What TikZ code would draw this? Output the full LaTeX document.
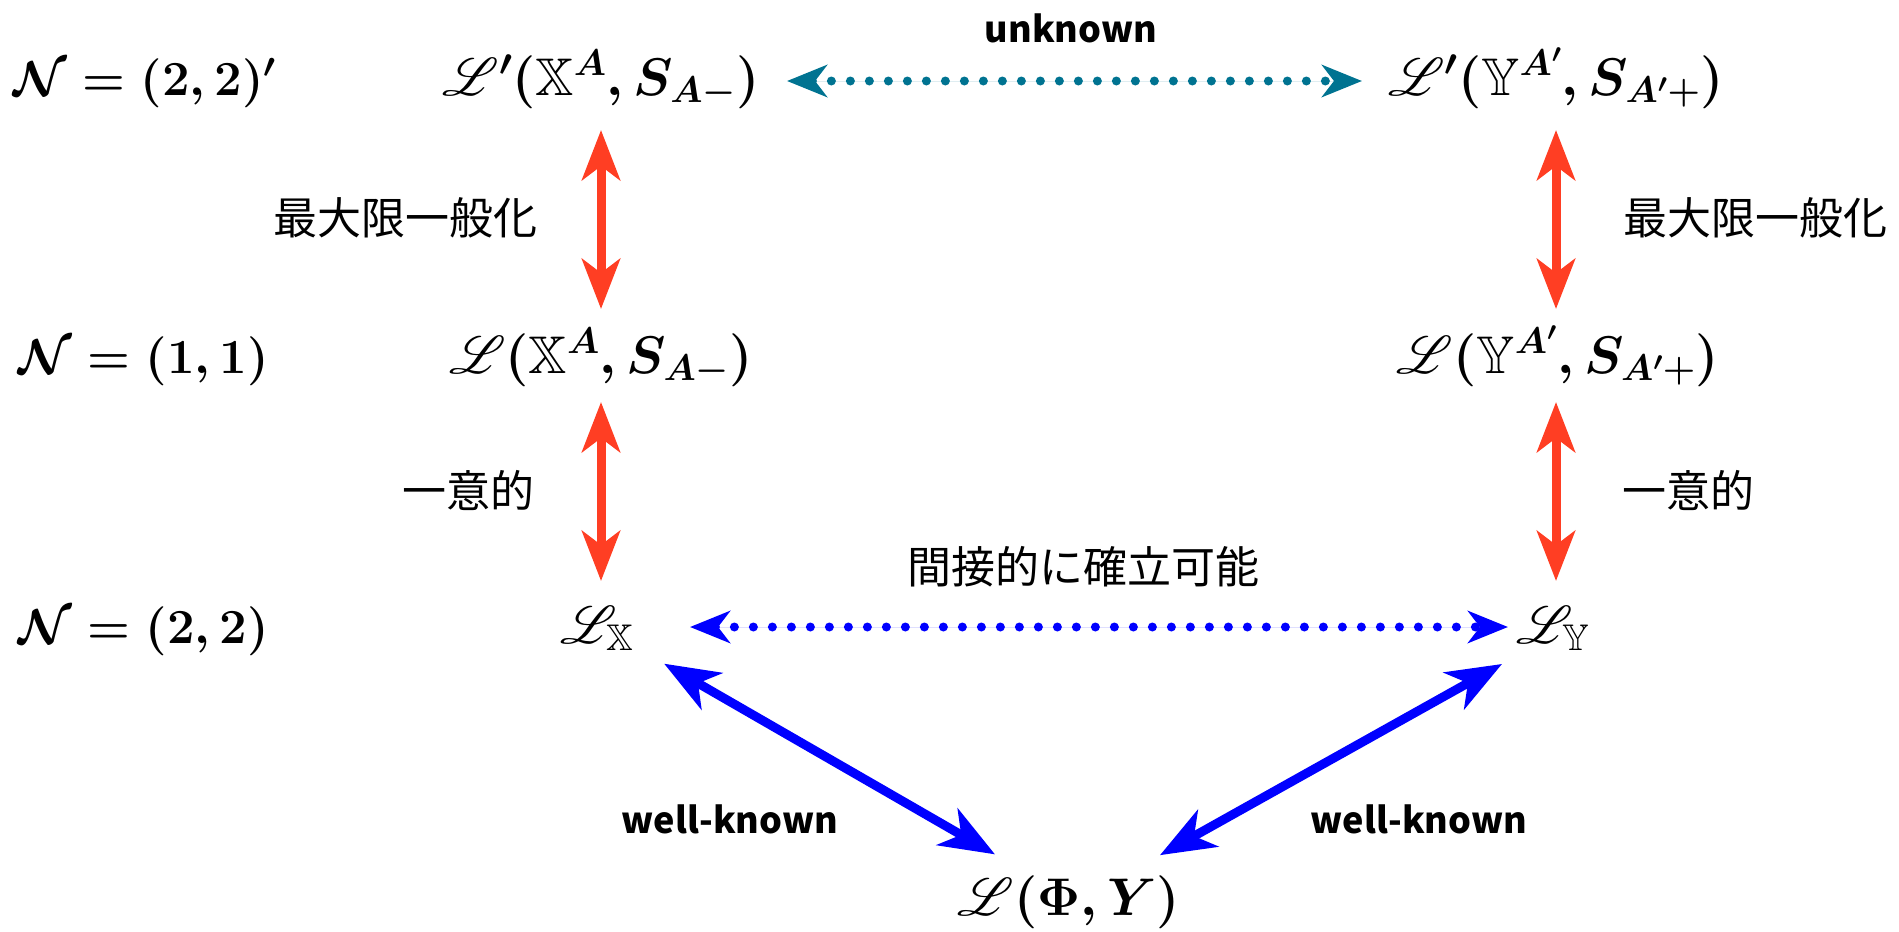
\RequirePackage{fix-cm}
\documentclass[tikz,border=0pt]{standalone}
\usepackage[no-math]{fontspec}
\usepackage{amssymb,mathrsfs}
\DeclareFontFamily{U}{rsfs}{\skewchar\font127 }
\DeclareFontShape{U}{rsfs}{m}{n}{<-6> rsfs5 <6-8> rsfs7 <8-> rsfs10}{}
\newfontfamily\jp{Noto Sans CJK JP}
\usetikzlibrary{arrows.meta,calc}
\definecolor{redc}{RGB}{255,62,35}
\definecolor{tealc}{RGB}{0,115,145}
\definecolor{bluec}{RGB}{0,0,255}
\DeclareMathSizes{49}{49}{34.3}{24.5}
\DeclareMathSizes{53}{53}{37.1}{26.5}
\tikzset{
  mathnode/.style={inner sep=0pt, anchor=base, font=\fontsize{53}{64}\selectfont\boldmath},
  levelnode/.style={inner sep=0pt, anchor=base west, font=\fontsize{49}{59}\selectfont\boldmath},
  jplabel/.style={inner sep=0pt, font=\jp\fontsize{44}{53}\selectfont},
  enlabel/.style={inner sep=0pt, anchor=base, font=\jp\bfseries\fontsize{36}{42}\selectfont},
  redarr/.style={draw=redc, line width=9pt, arrows={Stealth[length=50pt,width=38pt,inset=14pt]-Stealth[length=50pt,width=38pt,inset=14pt]}},
  bluearr/.style={draw=bluec, line width=9pt, arrows={Stealth[length=55pt,width=42pt,inset=16pt]-Stealth[length=55pt,width=42pt,inset=16pt]}},
  dotarr/.style={line width=9pt, dash pattern=on 0pt off 19pt, line cap=round, arrows={Stealth[length=40pt,width=32pt,inset=12pt]-Stealth[length=40pt,width=32pt,inset=12pt]}}
}
\begin{document}
\begin{tikzpicture}[x=1pt,y=-1pt]
\useasboundingbox (0,0) rectangle (1899,932);
% math nodes
\node[levelnode] (n1) at (13,95) {$\mathcal{N}=(2,2)'$};
\node[mathnode] (lpx) at (601,95) {$\mathscr{L}'(\mathbb{X}^{A},S_{A-})$};
\node[mathnode] (lpy) at (1556,95) {$\mathscr{L}'(\mathbb{Y}^{A'},S_{A'+})$};
\node[levelnode] (n2) at (18,373) {$\mathcal{N}=(1,1)$};
\node[mathnode] (lx) at (601,373) {$\mathscr{L}(\mathbb{X}^{A},S_{A-})$};
\node[mathnode] (ly) at (1558,373) {$\mathscr{L}(\mathbb{Y}^{A'},S_{A'+})$};
\node[levelnode] (n3) at (18,643) {$\mathcal{N}=(2,2)$};
\node[mathnode] (lX) at (597,643) {$\mathscr{L}_{\mathbb{X}}$};
\node[mathnode] (lY) at (1553,643) {$\mathscr{L}_{\mathbb{Y}}$};
\node[mathnode] (lphi) at (1069,915) {$\mathscr{L}(\Phi,Y)$};
% labels
\node[enlabel] (unk) at (1071,42) {unknown};
\node[jplabel] (g1) at (405,218) {最大限一般化};
\node[jplabel] (g2) at (1755,218) {最大限一般化};
\node[jplabel] (u1) at (468,490) {一意的};
\node[jplabel] (u2) at (1688,490) {一意的};
\node[jplabel] (ind) at (1083,567) {間接的に確立可能};
\node[enlabel] (wk1) at (730,833) {well-known};
\node[enlabel] (wk2) at (1419,833) {well-known};
% connectors
\draw[redarr, shorten <=35pt, shorten >=64pt] (lpx.base) -- (lpx.base |- lx.base);
\draw[redarr, shorten <=35pt, shorten >=64pt] (lpy.base) -- (lpy.base |- ly.base);
\draw[redarr, shorten <=29pt, shorten >=62pt] (lx.base) -- (lx.base |- lX.base);
\draw[redarr, shorten <=29pt, shorten >=62pt] (lpy.base |- ly.base) -- (lpy.base |- lY.base);
\draw[dotarr, draw=tealc, fill=tealc, shorten <=186pt, shorten >=194pt] ($(lpx.base)+(0,-14)$) -- ($(lpy.base)+(0,-14)$);
\draw[dotarr, draw=bluec, fill=bluec, shorten <=93pt, shorten >=45pt] ($(lX.base)+(0,-16)$) -- ($(lY.base)+(0,-16)$);
\draw[bluearr, shorten <=77.5pt, shorten >=85.4pt] ($(lX.base)+(0,-18)$) -- ($(lphi.base)+(0,-18)$);
\draw[bluearr, shorten <=58.4pt, shorten >=104.2pt] ($(lY.base)+(0,-7.5)$) -- ($(lphi.base)+(0,-9)$);
\end{tikzpicture}
\end{document}
